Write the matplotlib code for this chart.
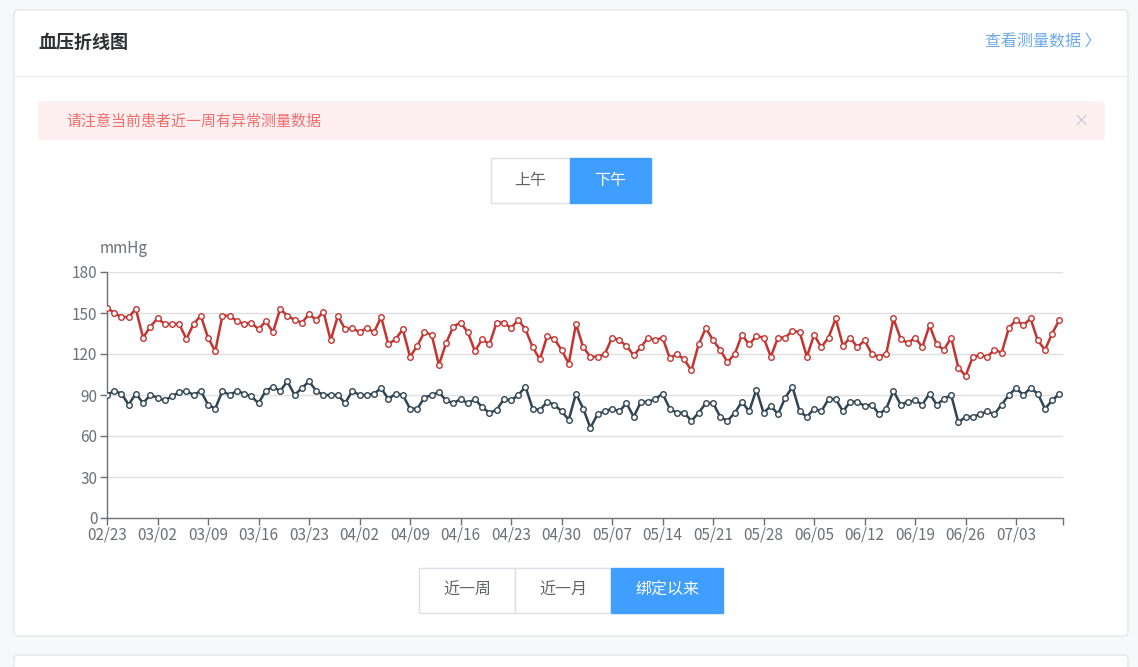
import matplotlib
matplotlib.use("Agg")
import matplotlib.pyplot as plt
from matplotlib.patches import FancyBboxPatch, Rectangle

plt.rcParams['font.family'] = ['Noto Sans CJK SC', 'DejaVu Sans']

# 收缩压 / 舒张压 (下午)
systolic = [154, 150, 147, 147, 153, 132, 140, 146, 142, 142, 142, 131, 142, 148, 132, 122, 148, 148, 144, 142,
            143, 138, 144, 136, 153, 148, 145, 143, 149, 145, 151, 130, 148, 138, 139, 136, 139, 136, 147, 127,
            131, 138, 118, 126, 136, 134, 112, 128, 140, 143, 136, 122, 131, 127, 143, 143, 139, 145, 138, 125,
            116, 133, 131, 123, 113, 142, 125, 118, 118, 120, 132, 130, 126, 119, 125, 132, 130, 132, 117, 120,
            116, 108, 127, 139, 130, 123, 114, 120, 134, 127, 133, 132, 118, 132, 132, 137, 136, 118, 134, 125,
            132, 146, 126, 132, 125, 130, 120, 118, 120, 146, 131, 128, 132, 125, 141, 127, 123, 132, 110, 104,
            118, 119, 118, 123, 121, 139, 145, 141, 146, 130, 123, 135, 145]
diastolic = [90, 93, 91, 83, 91, 84, 90, 88, 86, 89, 92, 93, 90, 93, 83, 80, 93, 90, 93, 91,
             89, 84, 93, 96, 93, 100, 90, 95, 100, 93, 90, 90, 90, 84, 93, 90, 90, 91, 95, 87,
             91, 90, 80, 80, 88, 90, 92, 86, 84, 87, 84, 87, 81, 77, 79, 87, 86, 90, 96, 80,
             79, 85, 83, 78, 72, 91, 80, 66, 76, 78, 80, 78, 84, 74, 85, 85, 87, 91, 80, 77,
             77, 71, 77, 84, 84, 74, 71, 77, 85, 78, 94, 77, 82, 76, 88, 96, 78, 74, 80, 78,
             87, 87, 78, 85, 85, 82, 83, 76, 80, 93, 83, 85, 86, 83, 91, 83, 87, 90, 70, 74,
             74, 76, 78, 76, 83, 90, 95, 90, 95, 91, 80, 86, 91]
date_labels = ['02/23', '03/02', '03/09', '03/16', '03/23', '04/02', '04/09', '04/16', '04/23', '04/30',
               '05/07', '05/14', '05/21', '05/28', '06/05', '06/12', '06/19', '06/26', '07/03']
y_ticks = [0, 30, 60, 90, 120, 150, 180]

W, H = 1138, 667
fig = plt.figure(figsize=(W / 100, H / 100), dpi=100)
fig.patch.set_facecolor('#f7f8fa')

# 背景画布，像素坐标
bg = fig.add_axes([0, 0, 1, 1])
bg.set_xlim(0, W)
bg.set_ylim(H, 0)
bg.axis('off')

# 卡片
bg.add_patch(FancyBboxPatch((14, 10), 1114, 626, boxstyle="round,pad=0,rounding_size=4",
                            facecolor='white', edgecolor='#e6e6e6', lw=1))
bg.add_patch(FancyBboxPatch((14, 655), 1114, 30, boxstyle="round,pad=0,rounding_size=4",
                            facecolor='white', edgecolor='#e6e6e6', lw=1))
bg.plot([14, 1128], [76, 76], color='#ebeef5', lw=1)
bg.text(38, 42, '血压折线图', fontsize=13, fontweight='bold', color='#303133', va='center')
bg.text(1101, 42, '查看测量数据 〉', fontsize=11.5, color='#6aa8e8', va='center', ha='right')

# 提示框
bg.add_patch(FancyBboxPatch((38, 101), 1067, 39, boxstyle="round,pad=0,rounding_size=4",
                            facecolor='#fef0f0', edgecolor='none'))
bg.text(66, 121, '请注意当前患者近一周有异常测量数据', fontsize=10.8, color='#f56c6c', va='center')
bg.text(1081, 121, '×', fontsize=11, color='#c0c4cc', va='center', ha='center')

# 上午 / 下午
def button(x, y, w, h, label, active, fs=11.5):
    bg.add_patch(Rectangle((x, y), w, h, facecolor='#409eff' if active else 'white',
                           edgecolor='#409eff' if active else '#dcdfe6', lw=1))
    bg.text(x + w / 2, y + h / 2, label, fontsize=fs, color='white' if active else '#606266',
            ha='center', va='center')

button(491, 158, 79, 45, '上午', False)
button(570, 158, 81, 45, '下午', True)

button(419, 568, 96, 45, '近一周', False)
button(515, 568, 96, 45, '近一月', False)
button(611, 568, 112, 45, '绑定以来', True)

# 折线图
x0, x1, ytop, ybot = 107, 1063, 272, 518
ax = fig.add_axes([x0 / W, (H - ybot) / H, (x1 - x0) / W, (ybot - ytop) / H])
ax.set_facecolor('none')
idx = list(range(len(systolic)))
ax.plot(idx, systolic, color='#c23531', lw=1.8, marker='o', ms=4, mfc='white', mew=1, zorder=3)
ax.plot(idx, diastolic, color='#2f4554', lw=1.8, marker='o', ms=4, mfc='white', mew=1, zorder=3)
ax.set_xlim(0, 132.5)
ax.set_ylim(0, 180)
ax.set_yticks(y_ticks)
ax.set_xticks([i * 7 for i in range(len(date_labels))])
ax.set_xticklabels(date_labels)
ax.set_xticks([132.5], minor=True)
for v in y_ticks[1:]:
    ax.axhline(v, color='#e0e0e0', lw=1, zorder=1)
for s in ['top', 'right']:
    ax.spines[s].set_visible(False)
for s in ['left', 'bottom']:
    ax.spines[s].set_color('#6e7079')
    ax.spines[s].set_linewidth(1)
ax.tick_params(axis='both', which='both', colors='#6e7079', labelcolor='#6e7079', labelsize=11,
               length=5, width=1)
ax.tick_params(axis='x', pad=1)
ax.tick_params(axis='y', pad=2)
ax.text(-1, 191, 'mmHg', fontsize=11, color='#6e7079', ha='left', va='bottom', clip_on=False)

fig.savefig('out.png', dpi=100, facecolor=fig.get_facecolor())
